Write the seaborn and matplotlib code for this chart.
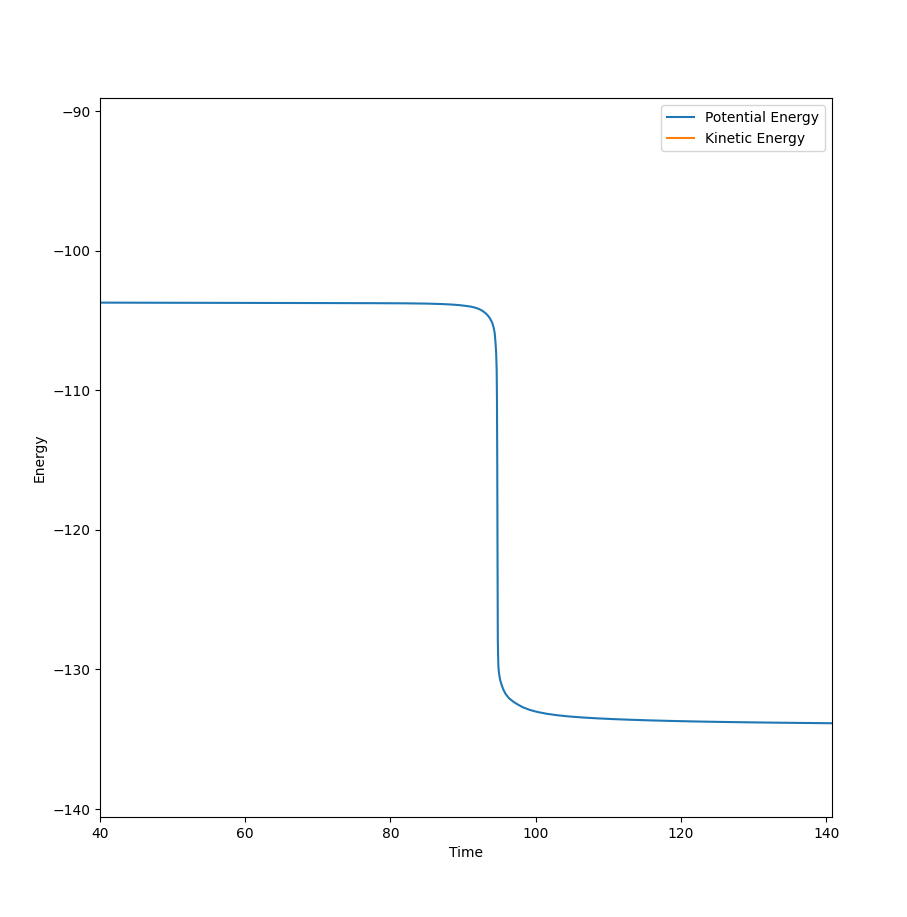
import pandas as pd
import numpy as np
import matplotlib.pyplot as plt
import seaborn as sns

# values
time = [40, 50, 60, 70, 78, 82, 85, 87, 88.5, 89.5, 90.3, 91.0, 91.6, 92.1,
        92.5, 92.8, 93.1, 93.4, 93.7, 94.0, 94.2, 94.35, 94.45, 94.55,
        94.62, 94.66, 94.7, 94.74, 94.78, 94.82, 94.86, 94.95, 95.1, 95.3,
        95.55, 95.85, 96.3, 96.9, 97.5, 98.2, 99.2, 100.3, 101.5, 103,
        104.7, 106.5, 108.5, 110.5, 113, 116, 119, 122.6, 126, 130, 135,
        140.8]
potential = [-103.72, -103.73, -103.74, -103.75, -103.76, -103.77, -103.79,
             -103.82, -103.86, -103.9, -103.95, -104.0, -104.07, -104.16,
             -104.26, -104.36, -104.48, -104.64, -104.85, -105.15, -105.5,
             -105.9, -106.5, -107.3, -108.5, -110.5, -115.0, -122.0,
             -127.9, -129.0, -129.8, -130.3, -130.75, -131.1, -131.45,
             -131.75, -132.05, -132.3, -132.5, -132.7, -132.9, -133.05,
             -133.17, -133.28, -133.37, -133.44, -133.5, -133.55, -133.6,
             -133.65, -133.69, -133.73, -133.76, -133.79, -133.82, -133.85]
# kinetic energy sits above the visible y range in the reference
kinetic = [0.0, 0.01, 0.02, 0.03, 0.04, 0.05, 0.07, 0.1, 0.14, 0.18, 0.23,
           0.28, 0.35, 0.44, 0.54, 0.64, 0.76, 0.92, 1.13, 1.43, 1.78,
           2.18, 2.78, 3.58, 4.78, 6.78, 11.28, 18.28, 24.18, 25.28, 26.08,
           26.58, 27.03, 27.38, 27.73, 28.03, 28.33, 28.58, 28.78, 28.98,
           29.18, 29.33, 29.45, 29.56, 29.65, 29.72, 29.78, 29.83, 29.88,
           29.93, 29.97, 30.01, 30.04, 30.07, 30.1, 30.13]

df = pd.DataFrame({
    'Time': time * 2,
    'Energy': potential + kinetic,
    'series': ['Potential Energy'] * len(time) + ['Kinetic Energy'] * len(time),
})

fig = plt.figure(figsize=(9.07, 9.17), dpi=100)
ax = fig.add_axes([0.1103, 0.109, 0.807, 0.784])

sns.lineplot(data=df, x='Time', y='Energy', hue='series',
             palette=['#1f77b4', '#ff7f0e'], linewidth=1.5, ax=ax,
             estimator=None, sort=False)

ax.set_xlim(40, 140.8)
ax.set_ylim(-140.57, -89.07)
ax.set_xlabel('Time')
ax.set_ylabel('Energy')
ax.legend(loc='upper right', title=None)

fig.savefig('out.png', dpi=100)
